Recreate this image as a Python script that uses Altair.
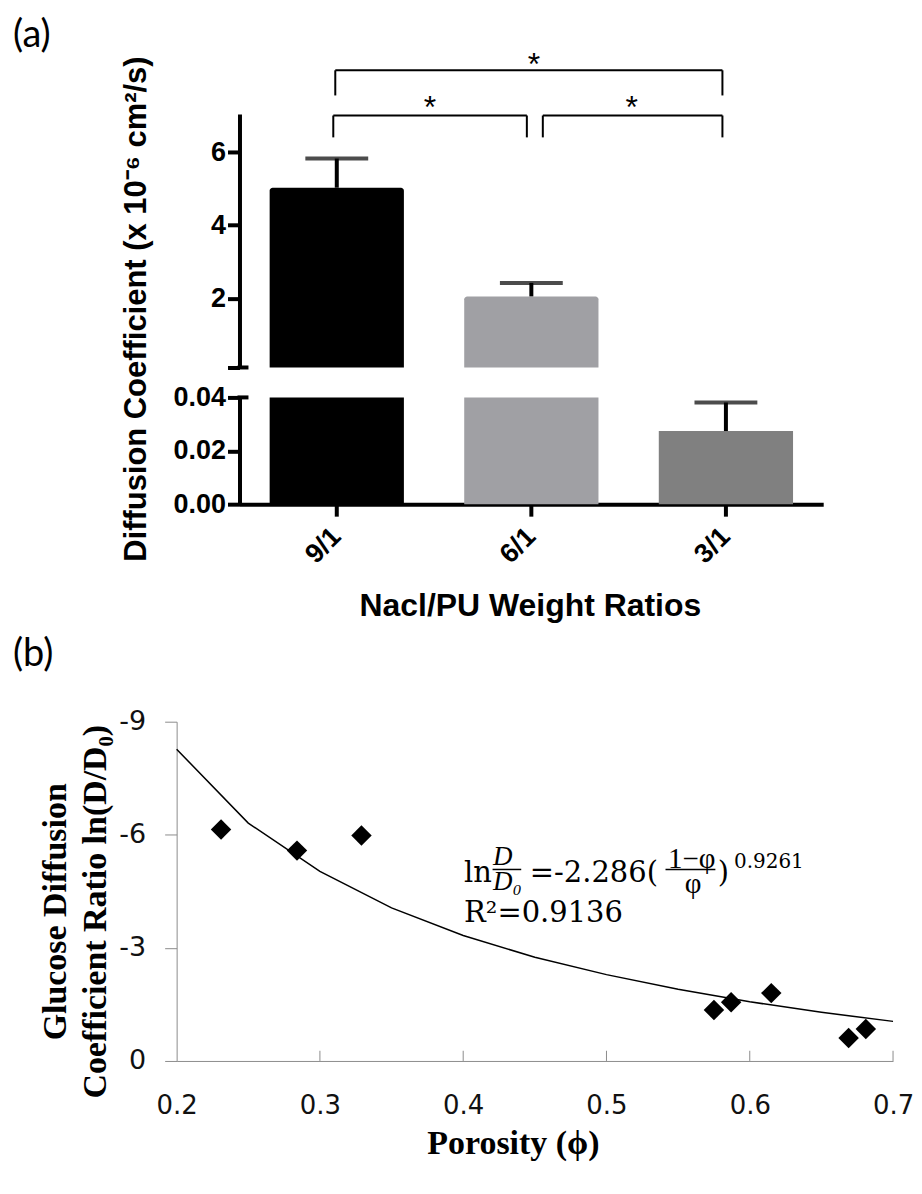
import altair as alt
import pandas as pd

# ---------------- panel (a) data ----------------
ratios = ["9/1", "6/1", "3/1"]
diff_mean = [5.03, 2.05, 0.0274]
diff_err = [0.80, 0.37, 0.0107]
bar_colors = ["#000000", "#a0a0a4", "#808080"]
upper_ticks = [0.1, 2, 4, 6]
lower_ticks = [0.0, 0.02, 0.04]

# significance brackets (from, to)
br_from = ["9/1", "6/1", "9/1"]
br_to = ["6/1", "3/1", "3/1"]
br_label = ["*", "*", "*"]

# ---------------- panel (b) data ----------------
porosity = [0.231, 0.284, 0.329, 0.575, 0.587, 0.615, 0.669, 0.681]
ln_ratio = [-6.14, -5.58, -5.98, -1.35, -1.56, -1.80, -0.61, -0.85]
fit_porosity = [0.20, 0.25, 0.30, 0.35, 0.40, 0.45, 0.50, 0.55, 0.60, 0.65, 0.70]
fit_ln_ratio = [-8.27, -6.31, -5.03, -4.06, -3.33, -2.75, -2.29, -1.90, -1.57, -1.29, -1.05]
x_ticks = [0.2, 0.3, 0.4, 0.5, 0.6, 0.7]
y_ticks = [-9, -6, -3, 0]

SANS = "Liberation Sans"
SERIF = "Liberation Serif"
EQ_FONT = "DejaVu Serif"
PANEL_FONT = "Lato"

# ================= panel (a) =================
bars = pd.DataFrame({"ratio": ratios, "mean": diff_mean, "err": diff_err})
bars["top"] = bars["mean"] + bars["err"]

xs = alt.Scale(domain=ratios, range=[63, 648], paddingInner=0.31, paddingOuter=0.155)
color = alt.Color("ratio:N", scale=alt.Scale(domain=ratios, range=bar_colors), legend=None)

axis_common = dict(
    domainColor="black", domainWidth=4, tickColor="black", tickWidth=4, tickSize=12,
    labelFont=SANS, labelFontWeight="bold", labelFontSize=27, labelColor="black",
    grid=False,
)

UP_MIN = 0.1
LO_MAX = 0.04
ys_up = alt.Scale(domain=[UP_MIN, 7.05], nice=False, zero=False)
up_axis = alt.Axis(
    values=upper_ticks, labelExpr="datum.value < 1 ? '' : datum.label", offset=-63,
    labelPadding=2,
    title="Diffusion Coefficient (x 10⁻⁶ cm²/s)", titleFont=SANS, titleFontWeight="bold",
    titleFontSize=31, titleColor="black", titleX=-87, titleY=195, titleAngle=270,
    titleAlign="center", titleBaseline="bottom",
    **axis_common,
)
Xu = alt.X("ratio:N", scale=xs, axis=None)

up_src = alt.Chart(bars).transform_filter(f"datum.mean > {UP_MIN}")
up_bars = up_src.mark_bar(cornerRadiusTopLeft=3, cornerRadiusTopRight=3).encode(
    x=Xu, y=alt.Y("mean:Q", scale=ys_up, axis=up_axis), y2=alt.datum(UP_MIN), color=color
)
up_err = up_src.mark_rule(color="black", strokeWidth=4).encode(
    x=Xu, y=alt.Y("mean:Q", scale=ys_up, axis=up_axis), y2="top:Q"
)
up_cap = up_src.mark_tick(color="black", thickness=4, size=63).encode(
    x=Xu, y=alt.Y("top:Q", scale=ys_up, axis=up_axis)
)
# axis-break marker (the break tick also crosses to the right of the axis)
up_break = alt.Chart(pd.DataFrame({"mean": [UP_MIN]})).mark_rule(color="black", strokeWidth=4).encode(
    x=alt.value(61), x2=alt.value(72), y=alt.Y("mean:Q", scale=ys_up, axis=up_axis)
)

# bracket geometry (annotation layout, data units of the upper segment)
brk = pd.DataFrame({"a": br_from, "b": br_to, "star": br_label,
                    "sa": ["9/1", "6/1", "6/1"],
                    "top": [7.01, 7.01, 8.25], "leg": [6.41, 6.41, 7.56],
                    "sy": [6.95, 6.95, 8.13]})
bracket_style = [(-3.5, -4.5, 93.5), (11.5, -3.5, 100.5), (-1.5, -3.5, 2.5)]
bracket_layers = []
for i, (oa, ob, sdx) in enumerate(bracket_style):
    c = alt.Chart(brk.iloc[[i]])
    Yt = alt.Y("top:Q", scale=ys_up, axis=up_axis)
    bracket_layers.append(c.mark_rule(color="black", strokeWidth=2, xOffset=oa, x2Offset=ob).encode(
        x=alt.X("a:N", scale=xs, axis=None), x2="b:N", y=Yt))
    bracket_layers.append(c.mark_rule(color="black", strokeWidth=2, xOffset=oa).encode(
        x=alt.X("a:N", scale=xs, axis=None), y=Yt, y2="leg:Q"))
    bracket_layers.append(c.mark_rule(color="black", strokeWidth=2, xOffset=ob).encode(
        x=alt.X("b:N", scale=xs, axis=None), y=Yt, y2="leg:Q"))
    bracket_layers.append(c.mark_text(font=SANS, fontSize=32, baseline="alphabetic", color="black", dx=sdx).encode(
        x=alt.X("sa:N", scale=xs, axis=None),
        y=alt.Y("sy:Q", scale=ys_up, axis=up_axis), text="star:N"))

upper = alt.layer(up_bars, up_err, up_cap, up_break, *bracket_layers).properties(
    width=648, height=254,
    title=alt.Title("(a)", anchor="start", frame="group", dx=-164, dy=6, offset=0,
                    font=PANEL_FONT, fontSize=38, fontWeight="normal", color="black"),
)

ys_lo = alt.Scale(domain=[0, LO_MAX], clamp=True, nice=False, zero=False)
lo_axis = alt.Axis(values=lower_ticks, format=".2f", offset=-63, labelPadding=2, title=None, **axis_common)
x_axis_lo = alt.Axis(
    labelAngle=315, labelAlign="right", labelBaseline="middle", labelPadding=16,
    title="Nacl/PU Weight Ratios", titleFont=SANS, titleFontWeight="bold", titleFontSize=32,
    titleColor="black", titleX=354, titleY=102, titleBaseline="middle", titleAlign="center",
    **axis_common,
)
Xl = alt.X("ratio:N", scale=xs, axis=x_axis_lo)
lo_bars = alt.Chart(bars).mark_bar().encode(
    x=Xl, y=alt.Y("mean:Q", scale=ys_lo, axis=lo_axis), y2=alt.datum(0), color=color
)
lo_err = alt.Chart(bars).transform_filter("datum.mean < 1").mark_rule(color="black", strokeWidth=4).encode(
    x=Xl, y=alt.Y("mean:Q", scale=ys_lo, axis=lo_axis), y2="top:Q"
)
lo_cap = alt.Chart(bars).transform_filter("datum.mean < 1").mark_tick(color="black", thickness=4, size=63).encode(
    x=Xl, y=alt.Y("top:Q", scale=ys_lo, axis=lo_axis)
)
lo_break = alt.Chart(pd.DataFrame({"mean": [LO_MAX]})).mark_rule(color="black", strokeWidth=4).encode(
    x=alt.value(61), x2=alt.value(72), y=alt.Y("mean:Q", scale=ys_lo, axis=lo_axis)
)
lower = alt.layer(lo_bars, lo_err, lo_cap, lo_break).properties(width=648, height=107)

spacer = alt.Chart(pd.DataFrame({"s": [0]})).mark_point(opacity=0).encode(
    x=alt.X("s:Q", axis=None), y=alt.Y("s:Q", axis=None)
).properties(width=20, height=158)

# ================= panel (b) =================
pts = pd.DataFrame({"phi": porosity, "lnr": ln_ratio})
fit = pd.DataFrame({"phi": fit_porosity, "lnr": fit_ln_ratio})

GRAY = "#8c8c8c"
xb = alt.Scale(domain=[0.2, 0.7], nice=False, zero=False)
yb = alt.Scale(domain=[-9, 0], reverse=True, nice=False, zero=False)
xb_axis = alt.Axis(
    values=x_ticks, format=".1f", ticks=False, tickSize=0, labelPadding=32, labelFlush=False,
    domainColor=GRAY, domainWidth=1, grid=False,
    labelFont="DejaVu Sans", labelFontSize=26, labelColor="#111111",
    title="Porosity (ϕ)", titleFont=SERIF, titleFontWeight="bold", titleFontSize=34,
    titleColor="black", titleX=337, titleY=66, titleBaseline="top", titleAlign="center",
)
yb_axis = alt.Axis(
    values=y_ticks, labelExpr="replace(datum.label, '−', '-')", labelFlush=False,
    tickSize=12, tickColor=GRAY, tickWidth=1, domainColor=GRAY, domainWidth=1, grid=False,
    labelPadding=19, labelFont="DejaVu Sans", labelFontSize=27, labelColor="#111111",
    title=["Glucose Diffusion", "Coefficient Ratio ln(D/D₀)"], titleFont=SERIF,
    titleFontWeight="bold", titleFontSize=34, titleLineHeight=40, titleColor="black",
    titleY=190, titlePadding=6,
)
Xb = alt.X("phi:Q", scale=xb, axis=xb_axis)
Yb = alt.Y("lnr:Q", scale=yb, axis=yb_axis)

fit_line = alt.Chart(fit).mark_line(color="black", strokeWidth=1.5).encode(x=Xb, y=Yb)
points = alt.Chart(pts).mark_point(shape="diamond", filled=True, color="black", opacity=1, size=420).encode(x=Xb, y=Yb)

tick_df = pd.DataFrame({"phi": [t for t in x_ticks if t > 0.2]})
tick_df["lnr"] = 0.0
tick_df["lnr2"] = -0.27
in_ticks = alt.Chart(tick_df).mark_rule(color=GRAY, strokeWidth=1).encode(x=Xb, y=Yb, y2="lnr2:Q")

# fitted-equation annotation (positions in data units)
eq_main = pd.DataFrame({"t": ["ln", "=-2.286(", ")", "R²=0.9136"],
                        "phi": [0.4006, 0.4465, 0.5776, 0.4006],
                        "lnr": [-4.75, -4.75, -4.75, -3.68]})
eq_dd = pd.DataFrame({"t": ["D", "D₀"], "phi": [0.4208, 0.4208], "lnr": [-5.19, -4.53]})
eq_phi = pd.DataFrame({"t": ["1−φ", "φ"], "phi": [0.5595, 0.5605], "lnr": [-5.13, -4.45]})
eq_sup = pd.DataFrame({"t": ["0.9261"], "phi": [0.5890], "lnr": [-5.13]})
eq_bar = pd.DataFrame({"phi": [0.4205, 0.5412], "phi2": [0.4405, 0.5760], "lnr": [-5.08, -5.08]})

t_main = alt.Chart(eq_main).mark_text(font=EQ_FONT, fontSize=29, align="left", baseline="alphabetic", color="black").encode(x=Xb, y=Yb, text="t:N")
t_dd = alt.Chart(eq_dd).mark_text(font=SERIF, fontSize=27, fontStyle="italic", align="left", baseline="alphabetic", color="black").encode(x=Xb, y=Yb, text="t:N")
t_phi = alt.Chart(eq_phi).mark_text(font=SERIF, fontSize=29, align="center", baseline="alphabetic", color="black").encode(x=Xb, y=Yb, text="t:N")
t_sup = alt.Chart(eq_sup).mark_text(font=EQ_FONT, fontSize=20, align="left", baseline="alphabetic", color="black").encode(x=Xb, y=Yb, text="t:N")
t_bar = alt.Chart(eq_bar).mark_rule(color="black", strokeWidth=1.5).encode(x=Xb, x2="phi2:Q", y=Yb)

panel_b = alt.layer(fit_line, points, in_ticks, t_main, t_dd, t_phi, t_sup, t_bar).properties(
    width=718, height=340,
    title=alt.Title("(b)", anchor="start", frame="group", dx=-164, dy=-34, offset=0,
                    font=PANEL_FONT, fontSize=38, fontWeight="normal", color="black"),
)

chart = (
    alt.vconcat(upper, lower, spacer, panel_b, spacing=30, bounds="flush")
    .properties(padding={"left": 5, "top": 7, "right": 0, "bottom": 5})
    .configure(background="white")
    .configure_view(stroke="transparent", strokeWidth=0)
)

chart.save("out.html", embed_options={"renderer": "svg", "actions": False})
